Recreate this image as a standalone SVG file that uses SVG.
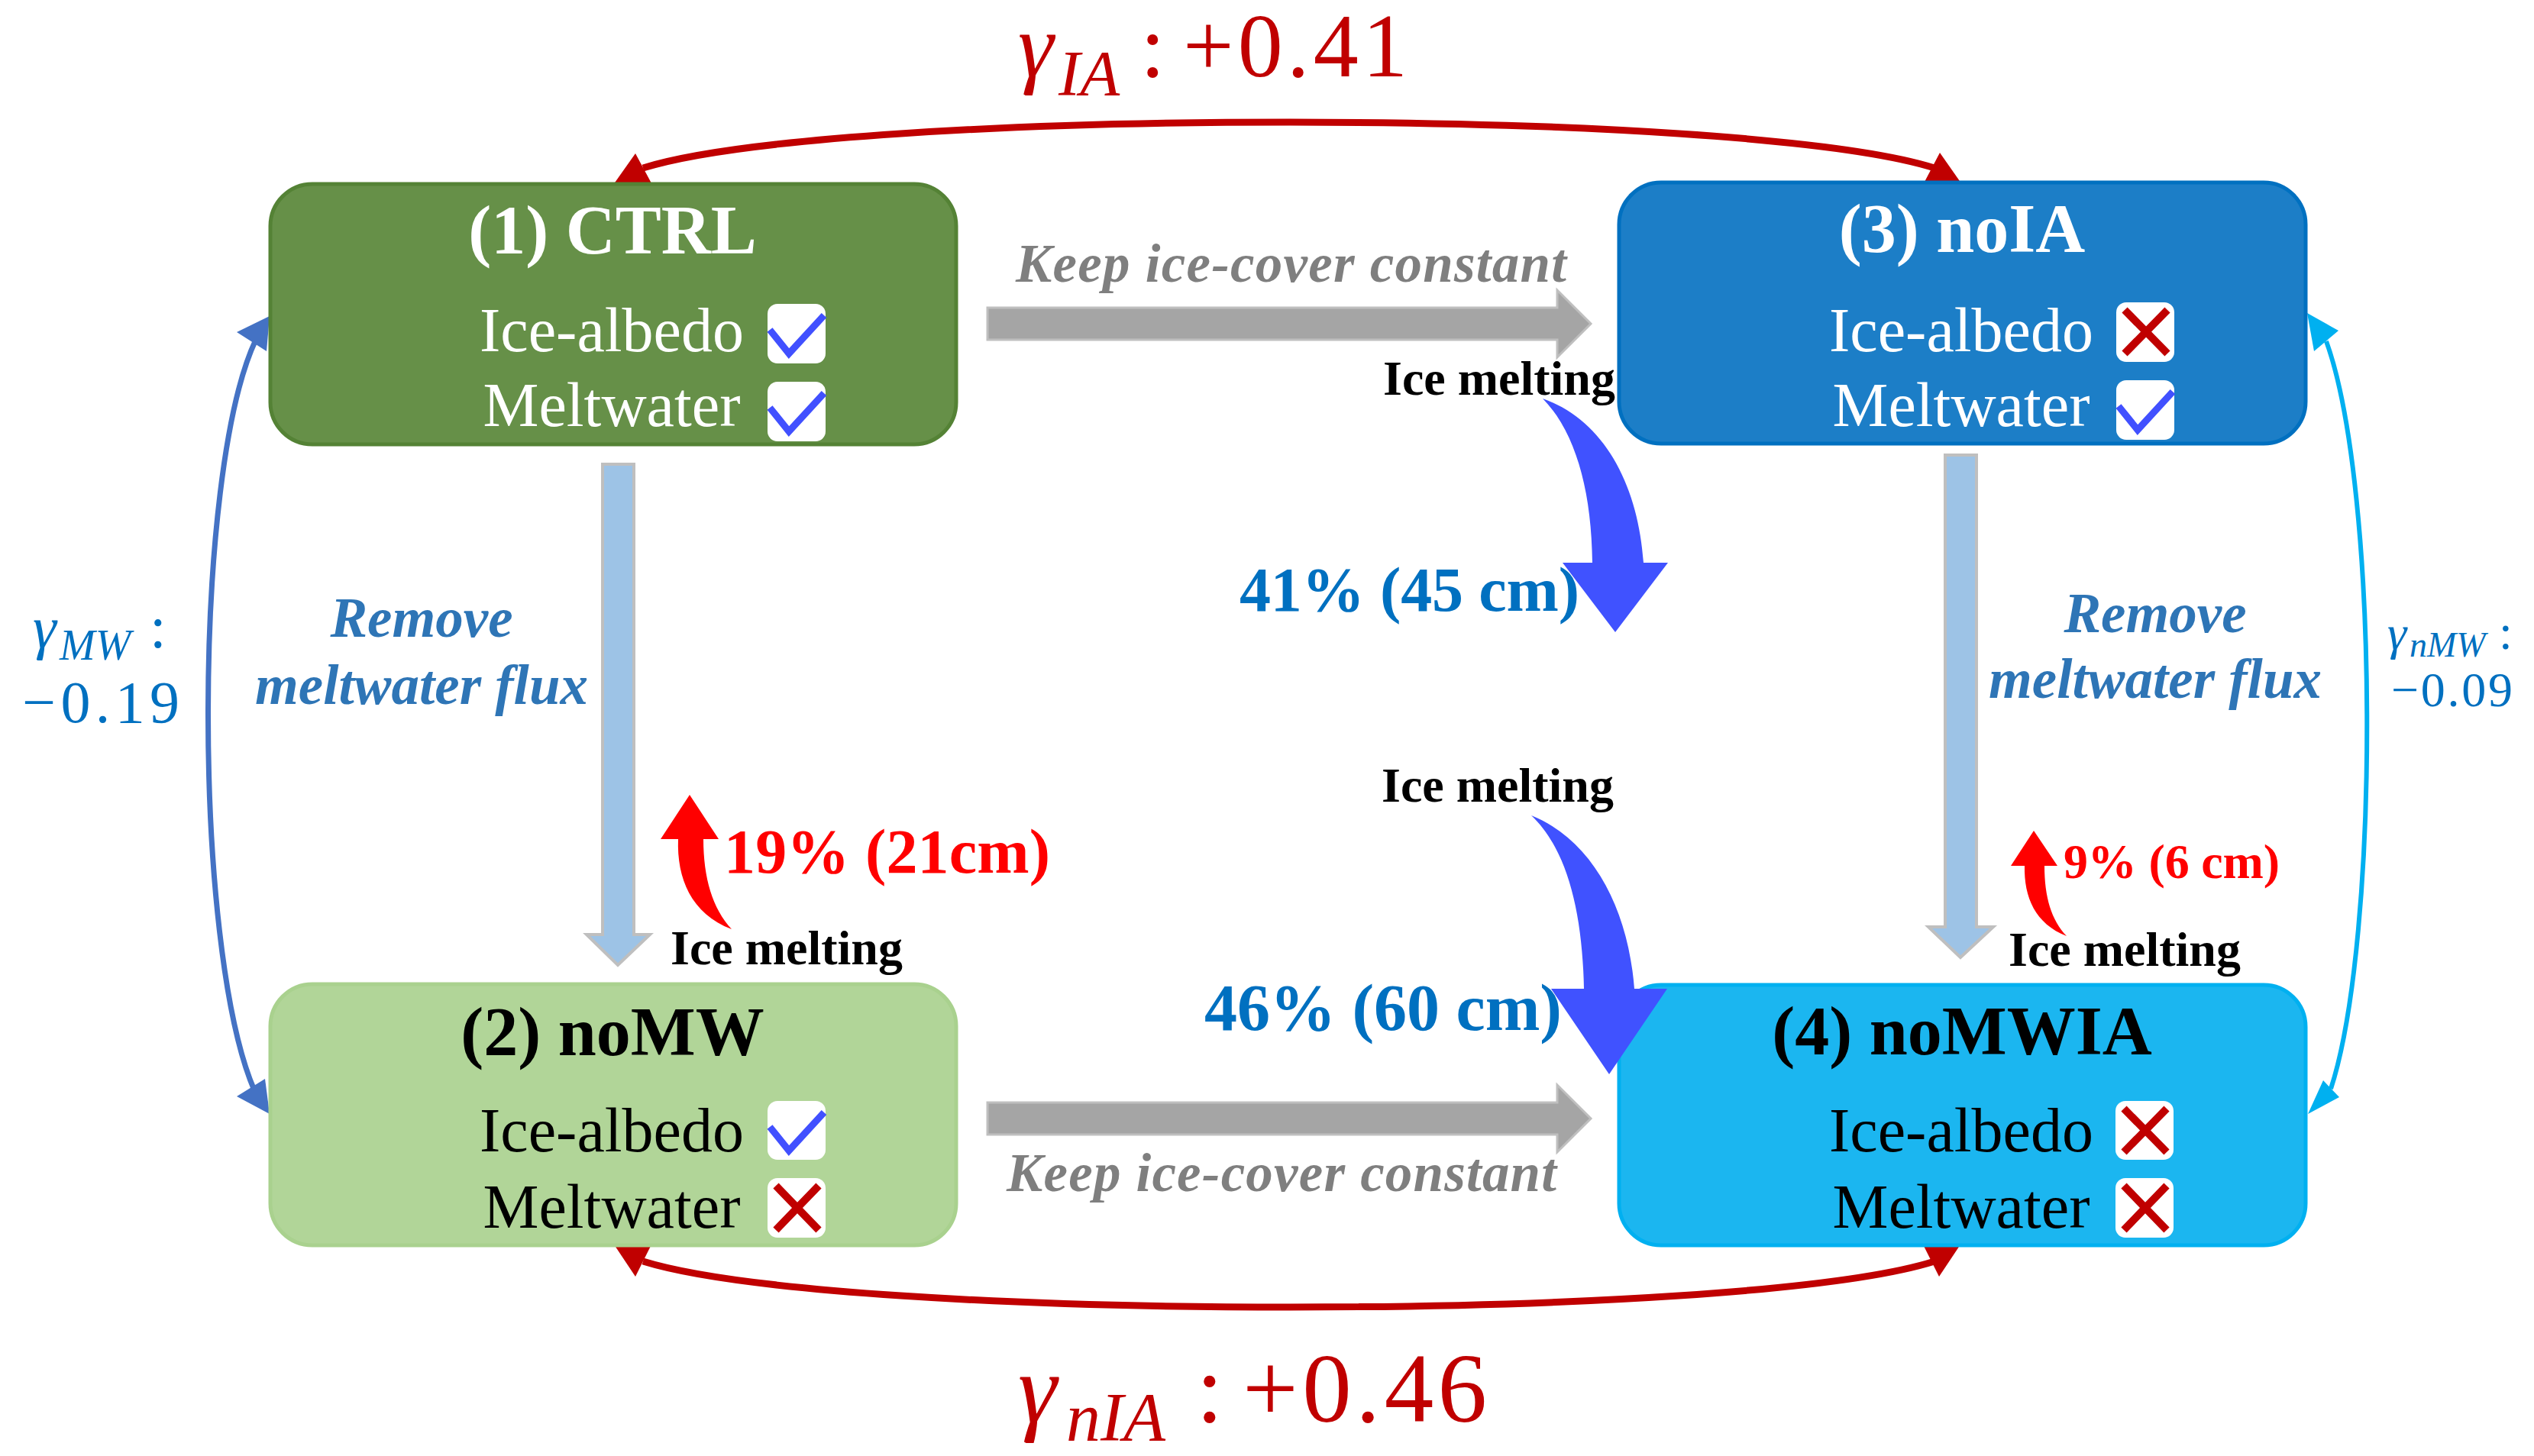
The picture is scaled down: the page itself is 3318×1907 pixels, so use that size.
<svg xmlns="http://www.w3.org/2000/svg" width="3318" height="1907" viewBox="0 0 3318 1907">
<style>
  text { font-family: 'Liberation Serif', 'Times New Roman', serif; }
  .title { font-size: 90px; font-weight: bold; text-anchor: middle; }
  .row { font-size: 82px; text-anchor: middle; }
  .w { fill: #FFFFFF; }
  .k { fill: #000000; }
  .cb { fill: #FFFFFF; }
  .chk { fill: none; stroke: #4150FF; stroke-width: 9; stroke-linejoin: miter; }
  .crs { fill: none; stroke: #C00000; stroke-width: 10; }
  .gray { fill: #A5A5A5; stroke: #BFBFBF; stroke-width: 3; }
  .lblue { fill: #9DC3E6; stroke: #BFBFBF; stroke-width: 4; }
  .keep { font-size: 71px; font-weight: bold; font-style: italic; fill: #7F7F7F; }
  .remove { font-size: 73px; font-weight: bold; font-style: italic; fill: #2E75B6; text-anchor: middle; }
  .melt { font-size: 64px; font-weight: bold; fill: #000000; }
  .pct { font-weight: bold; fill: #0070C0; }
  .redpct { font-weight: bold; fill: #FF0000; }
  .gred { fill: #C00000; }
  .gblue { fill: #0070C0; }
</style>

<g id="connectors">
  <!-- red top double arrow -->
  <path d="M 842,220 C 1100,140 2280,140 2533,220" fill="none" stroke="#C00000" stroke-width="9"/>
  <polygon points="832,201 803,242 853,240" fill="#C00000"/>
  <polygon points="2540,200 2519,240 2568,240" fill="#C00000"/>
  <!-- red bottom double arrow -->
  <path d="M 842,1652 C 1100,1732 2280,1732 2533,1652" fill="none" stroke="#C00000" stroke-width="9"/>
  <polygon points="804,1630 853,1630 832,1672" fill="#C00000"/>
  <polygon points="2518,1630 2567,1630 2539,1672" fill="#C00000"/>
  <!-- left blue double arrow -->
  <path d="M 335,445 C 252,620 252,1240 333,1428" fill="none" stroke="#4472C4" stroke-width="7"/>
  <polygon points="353,414 310,435 349,460" fill="#4472C4"/>
  <polygon points="353,1459 310,1436 347,1413" fill="#4472C4"/>
  <!-- right cyan double arrow -->
  <path d="M 3046,447 C 3116,640 3116,1230 3052,1426" fill="none" stroke="#00B0F0" stroke-width="6"/>
  <polygon points="3021,410 3062,433 3030,460" fill="#00B0F0"/>
  <polygon points="3022,1459 3063,1437 3042,1415" fill="#00B0F0"/>
  <!-- gray horizontal arrows -->
  <polygon class="gray" points="1293,403 2039,403 2039,380 2083,424 2039,468 2039,445 1293,445"/>
  <polygon class="gray" points="1293,1444 2039,1444 2039,1421 2083,1465 2039,1509 2039,1486 1293,1486"/>
  <!-- light blue vertical arrows -->
  <polygon class="lblue" points="789,608 830,608 830,1224 851,1224 809,1264 768,1224 789,1224"/>
  <polygon class="lblue" points="2547,596 2588,596 2588,1214 2610,1214 2567,1254 2525,1214 2547,1214"/>
  <!-- small red curved arrows -->
  <path d="M958,1217 C 905,1197 886,1150 888,1099 L 865,1099 L 903,1041 L 941,1099 L 921,1099 C 921,1150 933,1190 958,1217 Z" fill="#FF0000"/>
  <path d="M2706,1226 C 2665,1210 2650,1175 2651,1134 L 2633,1134 L 2663,1088 L 2694,1134 L 2677,1134 C 2677,1175 2686,1205 2706,1226 Z" fill="#FF0000"/>
</g>

<g id="node-ctrl">
  <rect x="354" y="241" width="898" height="341" rx="55" fill="#669048" stroke="#548235" stroke-width="5"/>
  <text class="title w" x="802" y="332">(1) CTRL</text>
  <text class="row w" x="801" y="460">Ice-albedo</text>
  <text class="row w" x="801" y="558">Meltwater</text>
  <rect class="cb" x="1005" y="398" width="76" height="78" rx="13"/>
  <polyline class="chk" points="1008,432 1033,463 1079,413"/>
  <rect class="cb" x="1005" y="500" width="76" height="78" rx="13"/>
  <polyline class="chk" points="1008,534 1033,565 1079,515"/>
</g>

<g id="node-noia">
  <rect x="2120" y="239" width="899" height="342" rx="55" fill="#1C7EC7" stroke="#0070C0" stroke-width="5"/>
  <text class="title w" x="2569" y="330">(3) noIA</text>
  <text class="row w" x="2568" y="460">Ice-albedo</text>
  <text class="row w" x="2568" y="558">Meltwater</text>
  <rect class="cb" x="2771" y="396" width="76" height="78" rx="13"/>
  <path class="crs" d="M2782,406 L2838,463 M2838,406 L2782,463"/>
  <rect class="cb" x="2771" y="498" width="76" height="78" rx="13"/>
  <polyline class="chk" points="2774,532 2799,563 2845,513"/>
</g>

<g id="node-nomw">
  <rect x="354" y="1289" width="898" height="342" rx="55" fill="#B1D598" stroke="#A9D18E" stroke-width="5"/>
  <text class="title k" x="802" y="1382">(2) noMW</text>
  <text class="row k" x="801" y="1508">Ice-albedo</text>
  <text class="row k" x="801" y="1608">Meltwater</text>
  <rect class="cb" x="1005" y="1442" width="76" height="77" rx="13"/>
  <polyline class="chk" points="1008,1476 1033,1507 1079,1457"/>
  <rect class="cb" x="1005" y="1543" width="76" height="78" rx="13"/>
  <path class="crs" d="M1016,1553 L1072,1611 M1072,1553 L1016,1611"/>
</g>

<g id="node-nomwia">
  <rect x="2120" y="1290" width="899" height="341" rx="55" fill="#1BB6F0" stroke="#00B0F0" stroke-width="5"/>
  <text class="title k" x="2569" y="1381">(4) noMWIA</text>
  <text class="row k" x="2568" y="1508">Ice-albedo</text>
  <text class="row k" x="2568" y="1608">Meltwater</text>
  <rect class="cb" x="2770" y="1442" width="76" height="77" rx="13"/>
  <path class="crs" d="M2781,1452 L2837,1509 M2837,1452 L2781,1509"/>
  <rect class="cb" x="2770" y="1543" width="76" height="78" rx="13"/>
  <path class="crs" d="M2781,1553 L2837,1611 M2837,1553 L2781,1611"/>
</g>

<g id="big-arrows">
  <path d="M2020,522 C 2062,565 2084,640 2085,737 L 2046,737 L 2115,828 L 2184,737 L 2152,737 C 2145,635 2100,550 2020,522 Z" fill="#4052FF"/>
  <path d="M2005,1068 C 2050,1110 2072,1190 2074,1295 L 2031,1295 L 2107,1407 L 2183,1295 L 2140,1295 C 2132,1190 2085,1100 2005,1068 Z" fill="#4052FF"/>
</g>

<g id="labels">
  <text class="keep" x="1330" y="369" textLength="721">Keep ice-cover constant</text>
  <text class="keep" x="1318" y="1560" textLength="720">Keep ice-cover constant</text>
  <text class="remove" x="552" y="834">Remove</text>
  <text class="remove" x="552" y="922">meltwater flux</text>
  <text class="remove" x="2822" y="828">Remove</text>
  <text class="remove" x="2822" y="914">meltwater flux</text>
  <text class="melt" x="1811" y="517">Ice melting</text>
  <text class="melt" x="1809" y="1050">Ice melting</text>
  <text class="melt" x="878" y="1263">Ice melting</text>
  <text class="melt" x="2630" y="1265">Ice melting</text>
  <text class="pct" x="1623" y="800" font-size="82" textLength="445">41% (45 cm)</text>
  <text class="pct" x="1577" y="1349" font-size="86" textLength="468">46% (60 cm)</text>
  <text class="redpct" x="948" y="1143" font-size="82" textLength="427">19% (21cm)</text>
  <text class="redpct" x="2702" y="1150" font-size="64" textLength="283">9% (6 cm)</text>

  <text class="gred" y="100" font-size="118"><tspan x="1333" font-style="italic">γ</tspan><tspan x="1386" y="125" font-size="85" font-style="italic">IA</tspan><tspan x="1493" y="100">:</tspan><tspan x="1549" y="100" textLength="294">+0.41</tspan></text>
  <text class="gred" y="1862" font-size="129"><tspan x="1333" font-style="italic">γ</tspan><tspan x="1396" y="1887" font-size="90" font-style="italic">nIA</tspan><tspan x="1566" y="1862">:</tspan><tspan x="1627" y="1862" textLength="320">+0.46</tspan></text>

  <text class="gblue" y="848" font-size="78"><tspan x="43" font-style="italic">γ</tspan><tspan x="78" y="864" font-size="56" font-style="italic">MW</tspan><tspan x="196" y="848">:</tspan></text>
  <text class="gblue" x="29" y="946" font-size="78" textLength="206">−0.19</text>
  <text class="gblue" y="850" font-size="64"><tspan x="3126" font-style="italic">γ</tspan><tspan x="3155" y="860" font-size="46" font-style="italic">nMW</tspan><tspan x="3272" y="850">:</tspan></text>
  <text class="gblue" x="3131" y="925" font-size="64" textLength="159">−0.09</text>
</g>
</svg>
